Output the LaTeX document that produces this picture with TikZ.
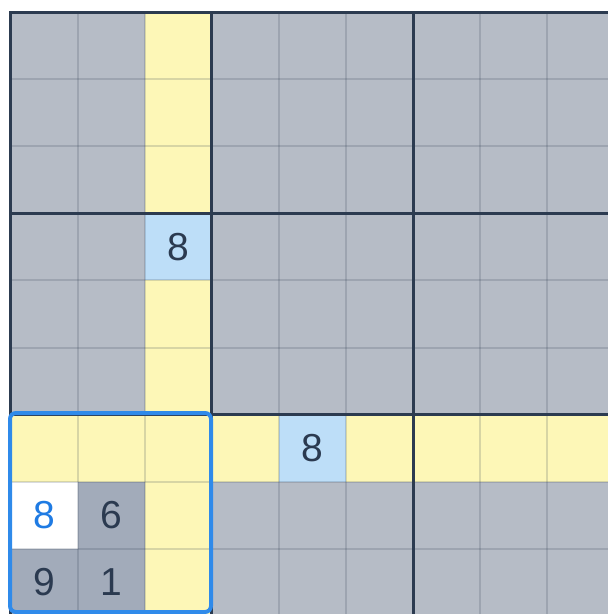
\documentclass[tikz,border=0pt]{standalone}
\usepackage{fontspec}
\setmainfont{Liberation Sans}
\definecolor{cellgray}{HTML}{B6BCC6}
\definecolor{cellyellow}{HTML}{FDF7B7}
\definecolor{cellblue}{HTML}{BDDEF8}
\definecolor{celldark}{HTML}{A2ABBA}
\definecolor{gridnavy}{HTML}{2C3B50}
\definecolor{digitnavy}{HTML}{2B3A50}
\definecolor{digitblue}{HTML}{1F7BE3}
\definecolor{selblue}{HTML}{2F8AEA}
\tikzset{
  thinline/.style={draw=gridnavy, draw opacity=0.18, line width=2pt},
  thickline/.style={draw=gridnavy, line width=3pt, line cap=rect},
  digit/.style={font=\fontsize{39}{39}\selectfont, text=digitnavy, inner sep=0pt},
  userdigit/.style={digit, text=digitblue},
  selbox/.style={draw=selblue, line width=4pt, rounded corners=6pt}
}
\begin{document}
\begin{tikzpicture}[x=1pt,y=-1pt]
\def\cs{67.1}
\def\ox{10.5}
\def\oy{12}
\useasboundingbox (0,0) rectangle (608,614);
\fill[white] (0,0) rectangle (608,614);
\begin{scope}
\clip (0,0) rectangle (608,614);
% base
\fill[cellgray] (\ox,\oy) rectangle ++({9*\cs},{9*\cs});
% yellow column and row
\fill[cellyellow] ({\ox+2*\cs},\oy) rectangle ++(\cs,{9*\cs});
\fill[cellyellow] (\ox,{\oy+6*\cs}) rectangle ++({9*\cs},\cs);
\fill[cellyellow] (\ox,{\oy+6*\cs}) rectangle ++({3*\cs},{3*\cs});
% blue cells
\fill[cellblue] ({\ox+2*\cs},{\oy+3*\cs}) rectangle ++(\cs,\cs);
\fill[cellblue] ({\ox+4*\cs},{\oy+6*\cs}) rectangle ++(\cs,\cs);
% white and dark cells
\fill[white] (\ox,{\oy+7*\cs}) rectangle ++(\cs,\cs);
\fill[celldark] ({\ox+\cs},{\oy+7*\cs}) rectangle ++(\cs,\cs);
\fill[celldark] (\ox,{\oy+8*\cs}) rectangle ++({2*\cs},\cs);
% thin lines
\foreach \i in {1,2,4,5,7,8}{
  \draw[thinline] ({\ox+\i*\cs},\oy) -- ++(0,{9*\cs});
  \draw[thinline] (\ox,{\oy+\i*\cs}) -- ++({9*\cs},0);
}
% thick lines
\foreach \i in {0,3,6,9}{
  \draw[thickline] ({\ox+\i*\cs},\oy) -- ++(0,{9*\cs});
  \draw[thickline] (\ox,{\oy+\i*\cs}) -- ++({9*\cs},0);
}
% digits
\node[digit] (d23) at ({\ox+2.5*\cs},{\oy+3.5*\cs}) {8};
\node[digit] (d46) at ({\ox+4.5*\cs},{\oy+6.5*\cs}) {8};
\node[userdigit] (d07) at ({\ox+0.5*\cs},{\oy+7.5*\cs}) {8};
\node[digit] (d17) at ({\ox+1.5*\cs},{\oy+7.5*\cs}) {6};
\node[digit] (d08) at ({\ox+0.5*\cs},{\oy+8.5*\cs}) {9};
\node[digit] (d18) at ({\ox+1.5*\cs},{\oy+8.5*\cs}) {1};
% selection box
\draw[selbox] (10,413) rectangle (211,612);
\end{scope}
\end{tikzpicture}
\end{document}
